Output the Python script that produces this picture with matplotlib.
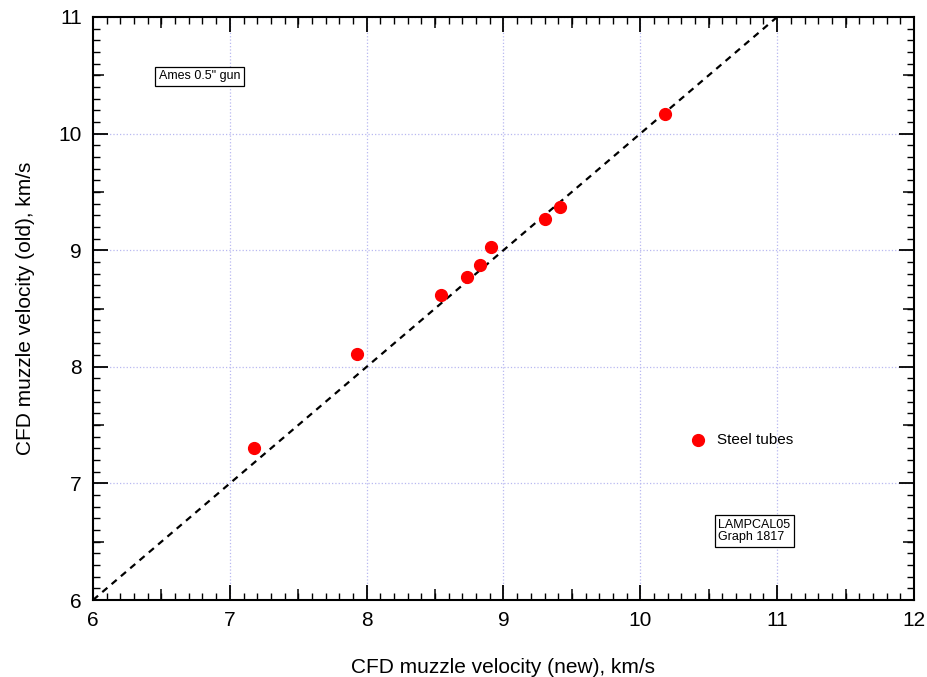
import matplotlib
matplotlib.use("Agg")
import matplotlib.pyplot as plt
from matplotlib.ticker import MultipleLocator, FixedLocator, NullFormatter

plt.rcParams["font.family"] = ["Liberation Sans", "DejaVu Sans"]

# data
v_new = [7.18, 7.93, 8.54, 8.73, 8.83, 8.91, 9.30, 9.41, 10.18]
v_old = [7.30, 8.11, 8.62, 8.77, 8.87, 9.03, 9.27, 9.37, 10.17]
diag = [6, 11]
x_half = [6.5, 7.5, 8.5, 9.5, 10.5, 11.5]
y_half = [6.5, 7.5, 8.5, 9.5, 10.5]

fig = plt.figure(figsize=(9.28, 6.77), dpi=100)
ax = fig.add_axes([0.1002, 0.1137, 0.8847, 0.8612])

ax.grid(True, which="major", color="#b8b8f0", linestyle=":", linewidth=0.9)
ax.set_axisbelow(True)

ax.plot(diag, diag, color="black", linestyle=(0, (3, 2.5)), linewidth=1.6, zorder=2)
ax.plot(v_new, v_old, "o", color="red", markersize=8.5, linestyle="none", zorder=3)

# legend-like label drawn inside the plot
ax.plot([10.42], [7.37], "o", color="red", markersize=8.5, clip_on=False)
ax.text(10.56, 7.37, "Steel tubes", fontsize=11, va="center", ha="left")

box = dict(boxstyle="square,pad=0.3", facecolor="white", edgecolor="black", linewidth=0.9)
ax.text(6.48, 10.49, 'Ames 0.5" gun', fontsize=9, va="center", ha="left", bbox=box)
ax.text(10.57, 6.59, "LAMPCAL05\nGraph 1817", fontsize=9, va="center", ha="left",
        bbox=box, linespacing=1.0)

ax.set_xlim(6, 12)
ax.set_ylim(6, 11)
ax.xaxis.set_major_locator(MultipleLocator(1))
ax.xaxis.set_minor_locator(MultipleLocator(0.1))
ax.yaxis.set_major_locator(MultipleLocator(1))
ax.yaxis.set_minor_locator(MultipleLocator(0.1))
ax.tick_params(which="both", direction="in", top=True, right=True)
ax.tick_params(which="major", length=11, width=1.3, labelsize=15, pad=8)
ax.tick_params(which="minor", length=5, width=1.0)
for s in ax.spines.values():
    s.set_linewidth(1.5)

# medium ticks at the half units
for side in ("bottom", "top"):
    sec = ax.secondary_xaxis(side)
    sec.xaxis.set_major_locator(FixedLocator(x_half))
    sec.xaxis.set_major_formatter(NullFormatter())
    sec.tick_params(direction="in", length=8, width=1.1)
    sec.spines[side].set_visible(False)
for side in ("left", "right"):
    sec = ax.secondary_yaxis(side)
    sec.yaxis.set_major_locator(FixedLocator(y_half))
    sec.yaxis.set_major_formatter(NullFormatter())
    sec.tick_params(direction="in", length=8, width=1.1)
    sec.spines[side].set_visible(False)

ax.set_xlabel("CFD muzzle velocity (new), km/s", fontsize=15, labelpad=20)
ax.set_ylabel("CFD muzzle velocity (old), km/s", fontsize=15, labelpad=17)

fig.savefig("out.png", dpi=100)
